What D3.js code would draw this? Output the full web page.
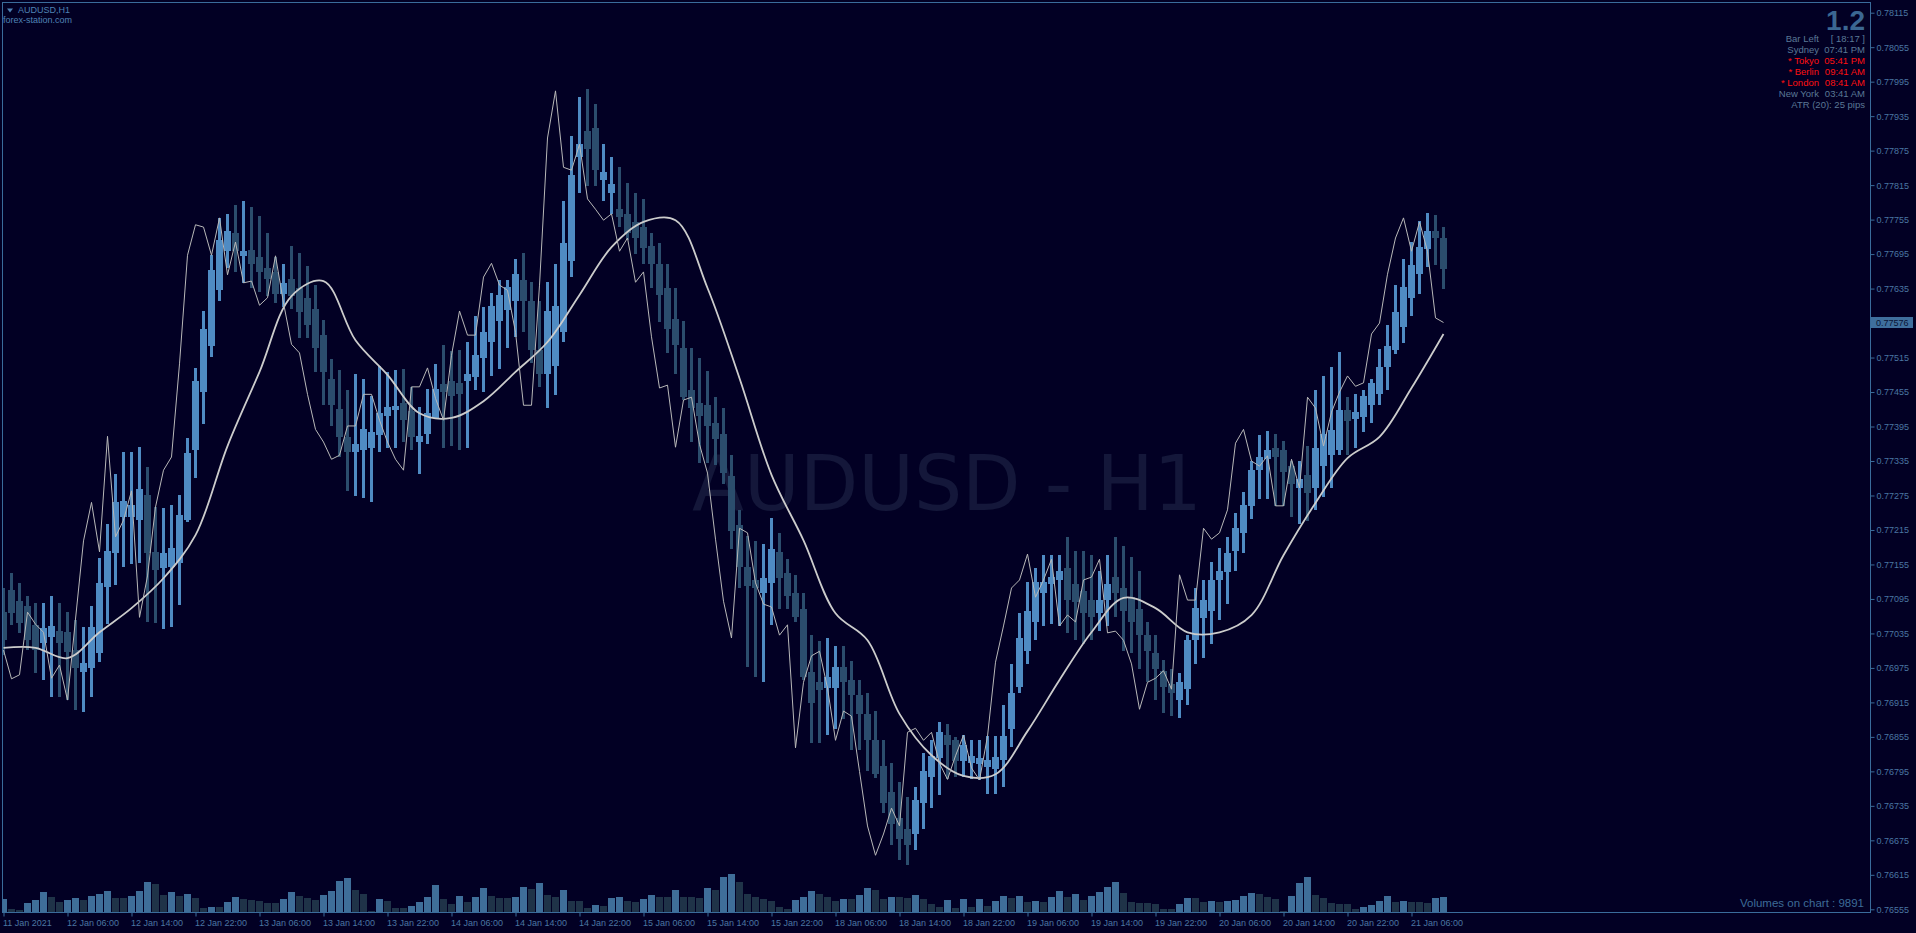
<!DOCTYPE html>
<html>
<head>
<meta charset="utf-8">
<script src="https://cdn.jsdelivr.net/npm/d3@7"></script>
<style>
  html, body { margin: 0; padding: 0; background: #020024; overflow: hidden; }
  svg { display: block; }
  text { font-family: "Liberation Sans", Arial, sans-serif; }
</style>
</head>
<body>
<svg id="chart" width="1916" height="933"></svg>
<script>
// --- data ---
const symbolTitle = "AUDUSD,H1";
const brokerSite = "forex-station.com";
const watermark = "AUDUSD - H1";

// x-axis labels, one every 8 bars
const timeLabels = ["11 Jan 2021", "12 Jan 06:00", "12 Jan 14:00", "12 Jan 22:00", "13 Jan 06:00",
  "13 Jan 14:00", "13 Jan 22:00", "14 Jan 06:00", "14 Jan 14:00", "14 Jan 22:00", "15 Jan 06:00",
  "15 Jan 14:00", "15 Jan 22:00", "18 Jan 06:00", "18 Jan 14:00", "18 Jan 22:00", "19 Jan 06:00",
  "19 Jan 14:00", "19 Jan 22:00", "20 Jan 06:00", "20 Jan 14:00", "20 Jan 22:00", "21 Jan 06:00"];
const labelStep = 8;

const priceTicks = [0.78115, 0.78055, 0.77995, 0.77935, 0.77875, 0.77815, 0.77755, 0.77695, 0.77635,
  0.77575, 0.77515, 0.77455, 0.77395, 0.77335, 0.77275, 0.77215, 0.77155, 0.77095, 0.77035, 0.76975,
  0.76915, 0.76855, 0.76795, 0.76735, 0.76675, 0.76615, 0.76555];

const opens = [0.77072,0.77110,0.77091,0.77083,0.77050,0.77018,0.77029,0.77039,0.77037,0.77006,
  0.76968,0.76975,0.77001,0.77116,0.77175,0.77237,0.77237,0.77232,0.77276,0.77177,
  0.77149,0.77150,0.77157,0.77232,0.77354,0.77455,0.77535,0.77632,0.77700,0.77732,
  0.77692,0.77702,0.77690,0.77671,0.77664,0.77625,0.77652,0.77636,0.77619,0.77599,
  0.77554,0.77478,0.77425,0.77377,0.77350,0.77354,0.77357,0.77380,0.77413,0.77424,
  0.77436,0.77422,0.77368,0.77382,0.77410,0.77469,0.77474,0.77471,0.77474,0.77481,
  0.77514,0.77542,0.77578,0.77598,0.77613,0.77650,0.77613,0.77528,0.77486,0.77500,
  0.77559,0.77683,0.77864,0.77909,0.77914,0.77824,0.77801,0.77773,0.77765,0.77751,
  0.77742,0.77709,0.77678,0.77636,0.77582,0.77531,0.77458,0.77436,0.77432,0.77401,
  0.77382,0.77309,0.77224,0.77150,0.77128,0.77105,0.77123,0.77177,0.77140,0.77105,
  0.77077,0.76968,0.76950,0.76940,0.76940,0.76976,0.76954,0.76928,0.76895,0.76849,
  0.76804,0.76759,0.76714,0.76695,0.76686,0.76740,0.76785,0.76818,0.76858,0.76849,
  0.76813,0.76809,0.76808,0.76802,0.76799,0.76815,0.76869,0.76942,0.77004,0.77055,
  0.77105,0.77121,0.77128,0.77149,0.77121,0.77109,0.77093,0.77070,0.77093,0.77133,
  0.77114,0.77098,0.77077,0.77032,0.77001,0.76970,0.76947,0.76919,0.76938,0.77023,
  0.77062,0.77074,0.77128,0.77142,0.77178,0.77210,0.77257,0.77319,0.77338,0.77357,
  0.77354,0.77326,0.77288,0.77311,0.77288,0.77326,0.77345,0.77354,0.77424,0.77408,
  0.77411,0.77432,0.77451,0.77498,0.77528,0.77568,0.77619,0.77660,0.77704,0.77735,
  0.77723];
const highs = [0.77114,0.77140,0.77123,0.77100,0.77088,0.77088,0.77100,0.77088,0.77072,0.77058,
  0.77046,0.77083,0.77166,0.77225,0.77312,0.77350,0.77350,0.77359,0.77324,0.77255,
  0.77253,0.77258,0.77276,0.77375,0.77497,0.77596,0.77693,0.77758,0.77765,0.77780,
  0.77787,0.77777,0.77761,0.77732,0.77690,0.77678,0.77709,0.77697,0.77674,0.77641,
  0.77580,0.77512,0.77493,0.77458,0.77486,0.77478,0.77448,0.77500,0.77490,0.77493,
  0.77495,0.77464,0.77429,0.77460,0.77504,0.77537,0.77526,0.77528,0.77542,0.77587,
  0.77603,0.77627,0.77650,0.77650,0.77686,0.77697,0.77646,0.77613,0.77646,0.77678,
  0.77787,0.77900,0.77968,0.77982,0.77956,0.77886,0.77864,0.77846,0.77819,0.77801,
  0.77791,0.77732,0.77714,0.77678,0.77636,0.77578,0.77531,0.77514,0.77491,0.77446,
  0.77427,0.77345,0.77250,0.77204,0.77196,0.77190,0.77236,0.77210,0.77164,0.77137,
  0.77105,0.77032,0.77022,0.77027,0.77013,0.77013,0.76987,0.76954,0.76931,0.76900,
  0.76849,0.76809,0.76776,0.76750,0.76768,0.76827,0.76849,0.76881,0.76877,0.76855,
  0.76858,0.76849,0.76849,0.76856,0.76856,0.76910,0.76982,0.77070,0.77124,0.77149,
  0.77171,0.77171,0.77171,0.77203,0.77178,0.77178,0.77171,0.77144,0.77171,0.77203,
  0.77187,0.77168,0.77144,0.77055,0.77032,0.76989,0.76973,0.76966,0.77032,0.77114,
  0.77128,0.77159,0.77184,0.77203,0.77244,0.77281,0.77335,0.77380,0.77387,0.77382,
  0.77370,0.77335,0.77335,0.77361,0.77458,0.77483,0.77498,0.77525,0.77446,0.77451,
  0.77458,0.77478,0.77530,0.77572,0.77641,0.77686,0.77716,0.77752,0.77766,0.77763,
  0.77742];
const lows = [0.76997,0.77050,0.77036,0.77006,0.76966,0.76954,0.76924,0.76924,0.76919,0.76902,
  0.76898,0.76924,0.76985,0.77051,0.77119,0.77150,0.77156,0.77157,0.77055,0.77053,
  0.77043,0.77046,0.77084,0.77229,0.77305,0.77399,0.77516,0.77613,0.77671,0.77664,
  0.77645,0.77636,0.77629,0.77622,0.77610,0.77603,0.77599,0.77549,0.77549,0.77490,
  0.77432,0.77396,0.77342,0.77283,0.77274,0.77270,0.77263,0.77350,0.77357,0.77357,
  0.77368,0.77354,0.77312,0.77364,0.77408,0.77357,0.77361,0.77354,0.77357,0.77458,
  0.77455,0.77483,0.77495,0.77531,0.77551,0.77559,0.77505,0.77464,0.77427,0.77450,
  0.77542,0.77655,0.77801,0.77813,0.77813,0.77787,0.77765,0.77742,0.77719,0.77695,
  0.77678,0.77636,0.77577,0.77523,0.77486,0.77441,0.77368,0.77331,0.77331,0.77328,
  0.77295,0.77182,0.77114,0.76976,0.76959,0.76950,0.77050,0.77077,0.77077,0.77055,
  0.76954,0.76844,0.76844,0.76858,0.76869,0.76886,0.76832,0.76832,0.76795,0.76783,
  0.76722,0.76667,0.76641,0.76632,0.76658,0.76695,0.76731,0.76754,0.76781,0.76785,
  0.76785,0.76781,0.76780,0.76755,0.76755,0.76768,0.76837,0.76931,0.76982,0.77023,
  0.77048,0.77051,0.77048,0.77036,0.77023,0.77016,0.77023,0.77039,0.77048,0.77063,
  0.77004,0.77001,0.76973,0.76950,0.76919,0.76896,0.76891,0.76888,0.76910,0.76982,
  0.76992,0.77016,0.77058,0.77086,0.77144,0.77175,0.77234,0.77269,0.77269,0.77257,
  0.77257,0.77237,0.77225,0.77231,0.77250,0.77272,0.77288,0.77345,0.77345,0.77357,
  0.77385,0.77401,0.77432,0.77458,0.77521,0.77540,0.77587,0.77625,0.77672,0.77676,
  0.77634];
const closes = [0.77023,0.77070,0.77053,0.77023,0.77006,0.77044,0.77048,0.77018,0.77003,0.76975,
  0.76983,0.77046,0.77123,0.77178,0.77263,0.77265,0.77258,0.77286,0.77175,0.77145,
  0.77175,0.77184,0.77241,0.77349,0.77474,0.77565,0.77667,0.77719,0.77735,0.77700,
  0.77700,0.77678,0.77664,0.77652,0.77625,0.77645,0.77622,0.77594,0.77572,0.77531,
  0.77490,0.77432,0.77377,0.77350,0.77364,0.77390,0.77385,0.77418,0.77429,0.77431,
  0.77406,0.77377,0.77378,0.77418,0.77460,0.77455,0.77448,0.77451,0.77486,0.77519,
  0.77559,0.77605,0.77624,0.77638,0.77660,0.77613,0.77528,0.77486,0.77596,0.77605,
  0.77714,0.77833,0.77886,0.77878,0.77841,0.77838,0.77817,0.77759,0.77732,0.77723,
  0.77706,0.77678,0.77624,0.77565,0.77537,0.77446,0.77427,0.77413,0.77396,0.77373,
  0.77314,0.77213,0.77150,0.77117,0.77114,0.77131,0.77182,0.77131,0.77100,0.77063,
  0.76959,0.76914,0.76936,0.76959,0.76976,0.76950,0.76928,0.76895,0.76849,0.76790,
  0.76740,0.76703,0.76677,0.76667,0.76745,0.76795,0.76822,0.76863,0.76841,0.76813,
  0.76841,0.76822,0.76818,0.76815,0.76820,0.76856,0.76931,0.77027,0.77074,0.77124,
  0.77124,0.77133,0.77144,0.77093,0.77090,0.77070,0.77063,0.77093,0.77121,0.77105,
  0.77074,0.77055,0.77032,0.77004,0.76973,0.76942,0.76931,0.76950,0.77023,0.77079,
  0.77093,0.77128,0.77144,0.77175,0.77218,0.77258,0.77319,0.77342,0.77354,0.77342,
  0.77316,0.77295,0.77304,0.77279,0.77357,0.77382,0.77389,0.77424,0.77404,0.77420,
  0.77448,0.77471,0.77498,0.77535,0.77594,0.77638,0.77676,0.77707,0.77735,0.77723,
  0.77669];

// thin grey line (fast average), one value per bar
const fastLine = [0.77006,0.76956,0.76963,0.77072,0.77051,0.77037,0.76957,0.76980,0.76919,0.77060,
  0.77196,0.77263,0.77177,0.77378,0.77203,0.77232,0.77283,0.77063,0.77135,0.77255,
  0.77319,0.77342,0.77504,0.77693,0.77746,0.77742,0.77693,0.77758,0.77659,0.77716,
  0.77645,0.77648,0.77606,0.77619,0.77692,0.77610,0.77538,0.77523,0.77451,0.77390,
  0.77368,0.77338,0.77345,0.77396,0.77396,0.77451,0.77451,0.77406,0.77368,0.77338,
  0.77319,0.77464,0.77464,0.77497,0.77444,0.77406,0.77519,0.77596,0.77554,0.77554,
  0.77655,0.77679,0.77641,0.77632,0.77559,0.77432,0.77432,0.77641,0.77897,0.77979,
  0.77846,0.77841,0.77886,0.77791,0.77773,0.77754,0.77765,0.77700,0.77723,0.77646,
  0.77664,0.77551,0.77462,0.77467,0.77359,0.77441,0.77446,0.77364,0.77314,0.77199,
  0.77091,0.77027,0.77218,0.77210,0.77123,0.77086,0.77081,0.77032,0.77050,0.76836,
  0.76950,0.76996,0.77004,0.76940,0.76849,0.76900,0.76891,0.76795,0.76700,0.76649,
  0.76686,0.76731,0.76700,0.76863,0.76870,0.76849,0.76863,0.76809,0.76781,0.76822,
  0.76858,0.76801,0.76780,0.76856,0.76985,0.77048,0.77114,0.77128,0.77173,0.77098,
  0.77128,0.77164,0.77048,0.77067,0.77055,0.77128,0.77133,0.77164,0.77036,0.77039,
  0.77023,0.76982,0.76903,0.76950,0.76957,0.76970,0.76938,0.77137,0.77093,0.77093,
  0.77218,0.77199,0.77210,0.77250,0.77366,0.77390,0.77335,0.77326,0.77344,0.77257,
  0.77257,0.77338,0.77288,0.77446,0.77427,0.77361,0.77420,0.77455,0.77483,0.77465,
  0.77471,0.77556,0.77575,0.77660,0.77723,0.77758,0.77700,0.77751,0.77700,0.77584,
  0.77576];

// thick smooth average, read every 4th bar
const slowStep = 4;
const slowLine = [0.77010,0.77010,0.76992,0.77037,0.77079,0.77131,0.77206,0.77361,0.77490,0.77622,
  0.77648,0.77545,0.77485,0.77418,0.77410,0.77439,0.77490,0.77542,0.77624,0.77707,
  0.77751,0.77754,0.77636,0.77479,0.77311,0.77197,0.77070,0.77023,0.76895,0.76823,
  0.76787,0.76790,0.76865,0.76954,0.77037,0.77097,0.77079,0.77037,0.77037,0.77067,
  0.77171,0.77262,0.77340,0.77377,0.77462,0.77556];

const volumes = [53,12,9,36,49,80,60,40,49,56, 49,65,73,85,56,56,65,85,121,113,
  69,80,65,73,56,16,21,21,40,61, 53,49,45,37,37,53,81,65,57,49,
  69,85,125,136,89,73,5,53,45,17, 17,25,41,61,109,53,33,65,41,61,
  97,65,57,57,61,101,93,117,69,61, 89,45,45,17,29,25,57,61,45,41,
  53,69,61,61,89,61,61,56,97,89, 140,152,121,73,61,53,45,21,13,49,
  61,85,73,61,45,53,53,69,97,89, 53,61,61,57,69,53,33,21,49,17,
  53,21,53,25,45,65,57,65,41,45, 41,61,85,61,73,49,65,81,101,121,
  77,41,37,37,33,13,13,33,57,57, 41,45,41,45,49,65,77,73,61,53,
  5,65,117,140,69,57,37,33,33,13, 21,29,45,65,41,45,41,41,37,57,
  61];
const volumeTotal = 9891;
const lastPrice = 0.77576;

const infoLabels = ["Bar Left", "Sydney", "* Tokyo", "* Berlin", "* London", "New York"];
const infoValues = ["[ 18:17 ]", "07:41 PM", "05:41 PM", "09:41 AM", "08:41 AM", "03:41 AM"];
const infoOpen = [false, false, true, true, true, false];
const atrText = "ATR (20): 25 pips";
const spreadText = "1.2";

// --- colours ---
const BG = "#020024";
const FRAME = "#3a6c9b";
const AXIS_TXT = "#4a76a2";
const BULL = "#4f8bc3";
const BEAR = "#2b4d6d";
const VOL_UP = "#3f6e99";
const VOL_DN = "#1f3348";

const svg = d3.select("#chart");
const plot = { left: 3, top: 2, right: 1870, bottom: 912 };

svg.append("rect").attr("width", 1916).attr("height", 933).attr("fill", BG);

const x = d3.scaleLinear().domain([0, opens.length - 1]).range([3.5, 1443.5]);
const y = d3.scaleLinear().domain([0.76555, 0.78115]).range([909.3, 12.7]);
const yVol = d3.scaleLinear().domain([0, 160]).range([plot.bottom, plot.bottom - 40]);

// watermark
svg.append("text")
  .attr("x", 947).attr("y", 510)
  .attr("text-anchor", "middle")
  .style("font-family", "'DejaVu Sans', Verdana, sans-serif")
  .style("font-size", "76px")
  .attr("fill", "#14173a")
  .text(watermark);

svg.append("clipPath").attr("id", "plotclip")
  .append("rect")
  .attr("x", plot.left).attr("y", plot.top)
  .attr("width", plot.right - plot.left).attr("height", plot.bottom - plot.top);

const g = svg.append("g").attr("clip-path", "url(#plotclip)");

// volumes
g.append("g").selectAll("rect")
  .data(volumes)
  .join("rect")
  .attr("x", (d, i) => x(i) - 3.5)
  .attr("width", 7)
  .attr("y", d => yVol(d))
  .attr("height", d => plot.bottom - yVol(d))
  .attr("fill", (d, i) => (i > 0 && d > volumes[i - 1]) || i === 0 ? VOL_UP : VOL_DN)
  .attr("shape-rendering", "crispEdges");

// candles
const bars = opens.map((o, i) => ({ i, o, h: highs[i], l: lows[i], c: closes[i] }));
const candle = g.append("g").selectAll("g")
  .data(bars)
  .join("g")
  .attr("fill", d => d.c >= d.o ? BULL : BEAR)
  .attr("shape-rendering", "crispEdges");
candle.append("rect")
  .attr("x", d => x(d.i) - 1.5)
  .attr("width", 3)
  .attr("y", d => y(d.h))
  .attr("height", d => y(d.l) - y(d.h));
candle.append("rect")
  .attr("x", d => x(d.i) - 3.5)
  .attr("width", 7)
  .attr("y", d => y(Math.max(d.o, d.c)))
  .attr("height", d => Math.max(2, Math.abs(y(d.o) - y(d.c))));

// averages
g.append("path")
  .datum(slowLine)
  .attr("fill", "none")
  .attr("stroke", "#cccccc")
  .attr("stroke-width", 1.8)
  .attr("d", d3.line().x((d, i) => x(i * slowStep)).y(d => y(d)).curve(d3.curveCatmullRom.alpha(0.5)));

g.append("path")
  .datum(fastLine)
  .attr("fill", "none")
  .attr("stroke", "#b8b8b8")
  .attr("stroke-width", 1)
  .attr("d", d3.line().x((d, i) => x(i)).y(d => y(d)));

// frame
svg.append("rect")
  .attr("x", 2.5).attr("y", 2.5)
  .attr("width", plot.right - 2).attr("height", plot.bottom - 2)
  .attr("fill", "none").attr("stroke", FRAME);

// right price axis
const yAxis = svg.append("g")
  .attr("transform", `translate(${plot.right + 0.5},0)`)
  .call(d3.axisRight(y).tickValues(priceTicks).tickFormat(d3.format(".5f")).tickSize(4).tickPadding(2));
yAxis.select(".domain").remove();
yAxis.selectAll("line").attr("stroke", FRAME);
yAxis.selectAll("text")
  .attr("fill", AXIS_TXT)
  .style("font-size", "9px")
  .attr("dy", "0.32em");

// last price marker
const lp = svg.append("g").attr("transform", `translate(${plot.right + 1},${Math.round(y(lastPrice))})`);
lp.append("rect").attr("x", 0).attr("y", -5).attr("width", 42).attr("height", 11).attr("fill", "#3f6f9d");
lp.append("text").attr("x", 5).attr("y", 3.5).attr("fill", "#0a1434")
  .style("font-size", "9px").text(d3.format(".5f")(lastPrice));

// time axis
const labelBars = timeLabels.map((t, k) => k * labelStep);
const xAxis = svg.append("g")
  .attr("transform", `translate(0,${plot.bottom + 0.5})`)
  .call(d3.axisBottom(x).tickValues(labelBars).tickFormat((d, k) => timeLabels[k]).tickSize(4));
xAxis.select(".domain").remove();
xAxis.selectAll("line").attr("stroke", FRAME);
xAxis.selectAll("text")
  .attr("fill", AXIS_TXT)
  .attr("text-anchor", "start")
  .attr("x", -1)
  .attr("y", 13.5)
  .attr("dy", null)
  .style("font-size", "9px");

// volume total
svg.append("text")
  .attr("x", 1864).attr("y", 906.5)
  .attr("text-anchor", "end")
  .attr("fill", "#3d6c98")
  .style("font-size", "11.5px")
  .text(`Volumes on chart : ${volumeTotal}`);

// top-left title
svg.append("path").attr("d", "M7,8.5 L13,8.5 L10,12.5 Z").attr("fill", "#4f82b4");
svg.append("text").attr("x", 18).attr("y", 13).attr("fill", "#4f82b4")
  .style("font-size", "9px").text(symbolTitle);
svg.append("text").attr("x", 3).attr("y", 23).attr("fill", "#4f82b4")
  .style("font-size", "9px").text(brokerSite);

// info panel
svg.append("text").attr("x", 1865).attr("y", 30).attr("text-anchor", "end")
  .attr("fill", "#3b6792").style("font-size", "28px").style("font-weight", "bold")
  .text(spreadText);
const info = svg.append("g").style("font-size", "9.5px");
infoLabels.forEach((lab, k) => {
  const col = infoOpen[k] ? "#ff1010" : "#5a7896";
  info.append("text").attr("x", 1819).attr("y", 42 + k * 11).attr("text-anchor", "end")
    .attr("fill", col).text(lab);
  info.append("text").attr("x", 1865).attr("y", 42 + k * 11).attr("text-anchor", "end")
    .attr("fill", col).text(infoValues[k]);
});
info.append("text").attr("x", 1865).attr("y", 42 + 6 * 11).attr("text-anchor", "end")
  .attr("fill", "#5a7896").text(atrText);
</script>
</body>
</html>
